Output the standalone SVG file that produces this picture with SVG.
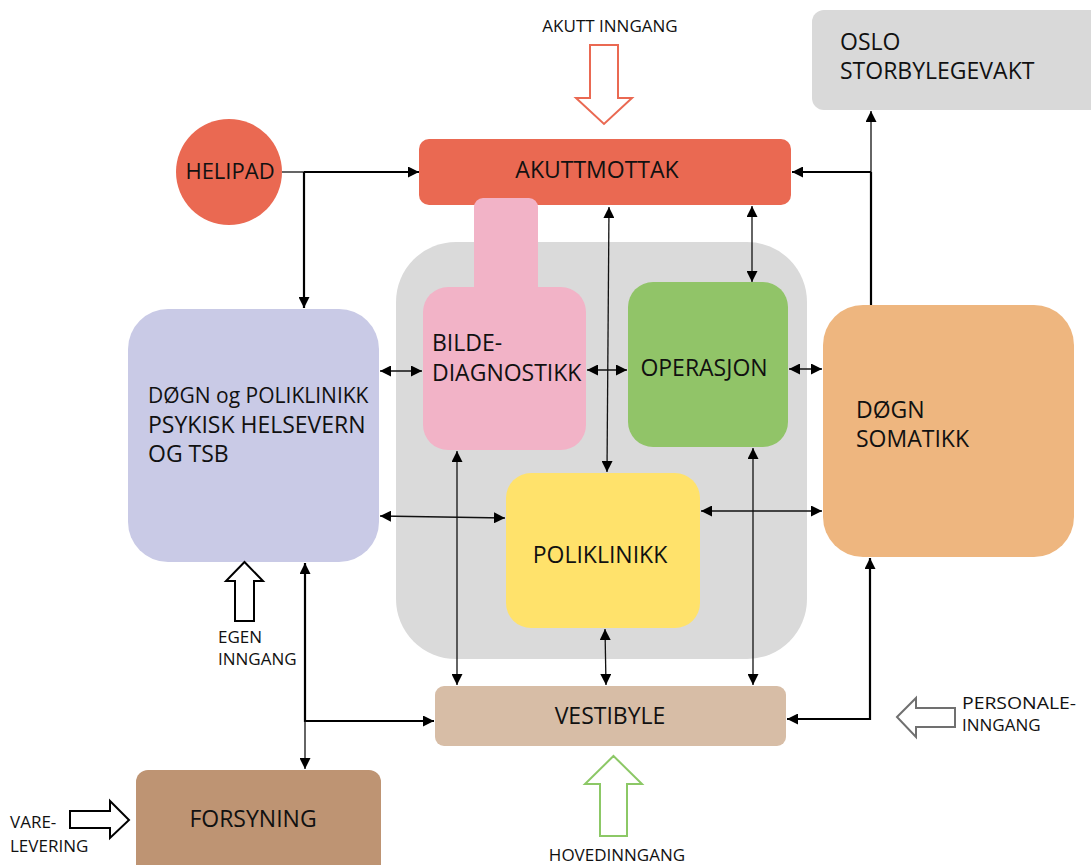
<svg xmlns="http://www.w3.org/2000/svg" width="1091" height="865" viewBox="0 0 1091 865">
<defs>
<style>
text{font-family:"Open Sans","Noto Sans","DejaVu Sans",sans-serif;fill:#111;}
.lbl{font-size:23px;}
.sm{font-size:17px;}
.mid{text-anchor:middle;}
.thin{fill:none;stroke:#111;stroke-width:1.3;}
.thick{fill:none;stroke:#000;stroke-width:2.2;}
.both{marker-start:url(#arr);marker-end:url(#arr);}
.end{marker-end:url(#arr);}
.ent{fill:#fff;stroke-width:2;stroke-linejoin:miter;}
</style>
<marker id="arr" viewBox="0 0 10 10" refX="10" refY="5" markerWidth="11" markerHeight="11" markerUnits="userSpaceOnUse" orient="auto-start-reverse">
<path d="M0,0 L10,5 L0,10 z" fill="#000"/>
</marker>
</defs>
<rect width="1091" height="865" fill="#fff"/>

<g id="kjerne-bakgrunn"><rect x="396" y="242" width="411" height="417" rx="60" fill="#DADADA"/></g>

<g id="akuttmottak"><rect x="419" y="139" width="372" height="66" rx="10" fill="#EA6952"/><text class="lbl mid" x="597" y="178">AKUTTMOTTAK</text></g>

<g id="bildediagnostikk"><rect x="474" y="198" width="64" height="110" rx="9" fill="#F2B3C7"/><rect x="423" y="287" width="163" height="163" rx="25" fill="#F2B3C7"/><text class="lbl" x="432" y="351">BILDE-</text><text class="lbl" x="432" y="381">DIAGNOSTIKK</text></g>

<g id="operasjon"><rect x="628" y="282" width="160" height="165" rx="25" fill="#91C468"/><text class="lbl mid" x="704" y="376">OPERASJON</text></g>

<g id="poliklinikk"><rect x="506" y="473" width="194" height="155" rx="25" fill="#FFE26B"/><text class="lbl mid" x="600" y="563">POLIKLINIKK</text></g>

<g id="helipad"><circle cx="229" cy="172" r="53" fill="#EA6952"/><text class="mid" font-size="22" x="230" y="179">HELIPAD</text></g>

<g id="oslo-storbylegevakt"><rect x="812" y="10" width="300" height="100" rx="12" fill="#D9D9D9"/><text class="lbl" x="840" y="50">OSLO</text><text class="lbl" x="840" y="79">STORBYLEGEVAKT</text></g>

<g id="psykisk-helsevern"><rect x="128" y="309" width="251" height="253" rx="40" fill="#C9CAE6"/><text x="148" y="403" font-size="21">DØGN og POLIKLINIKK</text><text class="lbl" x="148" y="433">PSYKISK HELSEVERN</text><text class="lbl" x="148" y="462">OG TSB</text></g>

<g id="dogn-somatikk"><rect x="823" y="305" width="251" height="252" rx="40" fill="#EEB67F"/><text class="lbl" x="856" y="418">DØGN</text><text class="lbl" x="856" y="447">SOMATIKK</text></g>

<g id="vestibyle"><rect x="435" y="686" width="351" height="60" rx="9" fill="#D7BDA6"/><text class="lbl mid" x="610" y="724">VESTIBYLE</text></g>

<g id="forsyning"><rect x="136" y="770" width="245" height="110" rx="12" fill="#BE9473"/><text class="lbl mid" x="253" y="827">FORSYNING</text></g>

<g id="akutt-inngang"><polygon class="ent" stroke="#EA6952" points="590,45 618,45 618,98 632,98 604,124 576,98 590,98"/><text class="sm mid" x="610" y="32">AKUTT INNGANG</text></g>

<g id="hovedinngang"><polygon class="ent" stroke="#8CC866" points="613.5,756 642,784 627,784 627,836 600,836 600,784 585,784"/><text class="sm mid" x="617" y="861">HOVEDINNGANG</text></g>

<g id="personaleinngang"><polygon class="ent" stroke="#707070" points="897,717 916,698 916,708 955,708 955,727 916,727 916,737"/><text class="sm" x="962" y="709" textLength="114" lengthAdjust="spacingAndGlyphs">PERSONALE-</text><text class="sm" x="962" y="731">INNGANG</text></g>

<g id="egen-inngang"><polygon class="ent" stroke="#000" stroke-width="1.8" points="244.5,562 263,581 254,581 254,621 235,621 235,581 226,581"/><text class="sm" x="218" y="643">EGEN</text><text class="sm" x="218" y="665">INNGANG</text></g>

<g id="varelevering"><polygon class="ent" stroke="#000" stroke-width="1.8" points="70,811 110,811 110,801 129,820 110,838 110,828 70,828"/><text class="sm" x="10" y="828">VARE-</text><text class="sm" x="10" y="852">LEVERING</text></g>

<g id="connectors">
<path class="thin" stroke="#666" d="M282,172 H304"/>
<path class="thick end" d="M304,172 H419"/>
<path class="thick end" d="M304,172 V308"/>
<path class="thin both" d="M380,371 H422"/>
<path class="thin both" d="M587,370 H627"/>
<path class="thin both" d="M789,369 H822"/>
<path class="thin both" d="M609,207 L607,472"/>
<path class="thin both" d="M752,206 V282"/>
<path class="thin both" d="M380,516 L505,518"/>
<path class="thin both" d="M701,511 H822"/>
<path class="thin both" d="M457,451 V685"/>
<path class="thin both" d="M605,629 L606,685"/>
<path class="thin both" d="M753,448 V685"/>
<path class="thick both" d="M305,563 V721 H434"/>
<path class="thin end" d="M305,721 V769"/>
<path class="thick" d="M871,305 V172"/>
<path class="thin end" d="M871,172 V111"/>
<path class="thick end" d="M871,172 H792"/>
<path class="thick both" d="M870,558 V719 H787"/>
</g>
</svg>
